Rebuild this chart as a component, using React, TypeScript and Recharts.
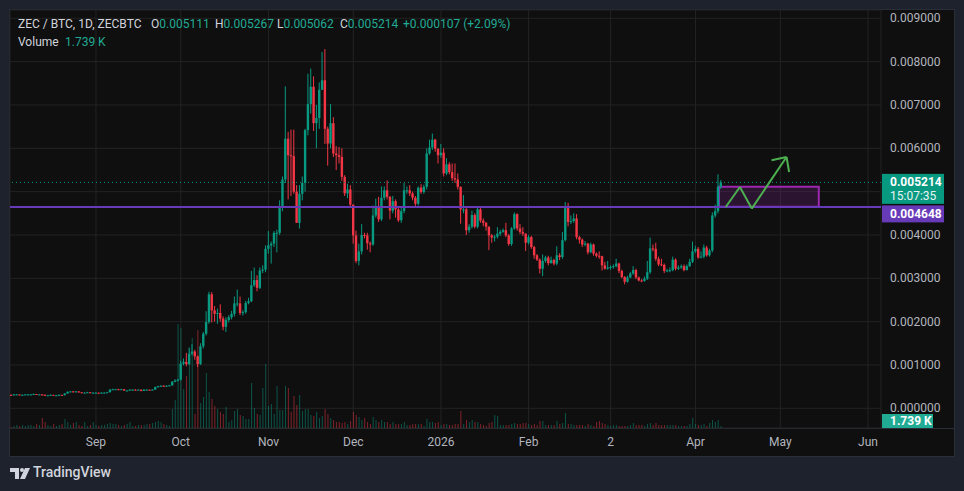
import { ComposedChart, Bar, XAxis, YAxis, CartesianGrid, ReferenceLine, ReferenceArea, Cell } from 'recharts';

// daily candles, day index counted from 1 Sep 2025 (first candle = 2 Aug 2025)
const firstDay = -30;
const firstOpen = 0.00031;

const closes = [
  0.00030, 0.00032, 0.00032, 0.00031, 0.00031, 0.00032, 0.00032, 0.00032, 0.00033, 0.00032,
  0.00032, 0.00031, 0.00030, 0.00030, 0.00031, 0.00030, 0.00030, 0.00031, 0.00030, 0.00034,
  0.00038, 0.00039, 0.00038, 0.00039, 0.00037, 0.00036, 0.00036, 0.00037, 0.00036, 0.00036,
  0.00036, 0.00035, 0.00036, 0.00036, 0.00037, 0.00043, 0.00044, 0.00044, 0.00043, 0.00044,
  0.00041, 0.00041, 0.00043, 0.00043, 0.00042, 0.00043, 0.00040, 0.00043, 0.00043, 0.00042,
  0.00043, 0.00049, 0.00051, 0.00052, 0.00051, 0.00052, 0.00053, 0.00061, 0.00064, 0.00066,
  0.00103, 0.00107, 0.00102, 0.00126, 0.00131, 0.00120, 0.00102, 0.00143, 0.00172, 0.00199,
  0.00263, 0.00226, 0.00218, 0.00220, 0.00207, 0.00188, 0.00204, 0.00210, 0.00218, 0.00242,
  0.00242, 0.00220, 0.00222, 0.00243, 0.00247, 0.00284, 0.00296, 0.00278, 0.00318, 0.00320,
  0.00368, 0.00376, 0.00380, 0.00405, 0.00405, 0.00465, 0.00528, 0.00622, 0.00584, 0.00582,
  0.00500, 0.00428, 0.00495, 0.00520, 0.00642, 0.00702, 0.00742, 0.00658, 0.00670, 0.00735,
  0.00757, 0.00645, 0.00611, 0.00658, 0.00588, 0.00584, 0.00580, 0.00534, 0.00496, 0.00505,
  0.00470, 0.00399, 0.00340, 0.00362, 0.00400, 0.00399, 0.00381, 0.00378, 0.00445, 0.00466,
  0.00436, 0.00486, 0.00503, 0.00488, 0.00456, 0.00478, 0.00459, 0.00434, 0.00455, 0.00503,
  0.00503, 0.00496, 0.00486, 0.00472, 0.00509, 0.00499, 0.00511, 0.00588, 0.00602, 0.00620,
  0.00599, 0.00584, 0.00590, 0.00542, 0.00563, 0.00545, 0.00531, 0.00528, 0.00511, 0.00459,
  0.00459, 0.00411, 0.00419, 0.00446, 0.00419, 0.00459, 0.00433, 0.00428, 0.00419, 0.00399,
  0.00394, 0.00396, 0.00403, 0.00407, 0.00411, 0.00399, 0.00379, 0.00415, 0.00448, 0.00415,
  0.00407, 0.00403, 0.00382, 0.00395, 0.00372, 0.00353, 0.00343, 0.00322, 0.00340, 0.00348,
  0.00335, 0.00342, 0.00334, 0.00353, 0.00349, 0.00388, 0.00462, 0.00430, 0.00432, 0.00438,
  0.00395, 0.00389, 0.00378, 0.00380, 0.00360, 0.00378, 0.00357, 0.00352, 0.00351, 0.00330,
  0.00322, 0.00325, 0.00326, 0.00328, 0.00334, 0.00317, 0.00303, 0.00292, 0.00302, 0.00311,
  0.00319, 0.00302, 0.00295, 0.00294, 0.00299, 0.00314, 0.00369, 0.00368, 0.00345, 0.00332,
  0.00331, 0.00317, 0.00318, 0.00319, 0.00343, 0.00322, 0.00325, 0.00328, 0.00319, 0.00328,
  0.00338, 0.00362, 0.00368, 0.00348, 0.00350, 0.00371, 0.00353, 0.00364, 0.00445, 0.00455,
  0.005111, 0.005214,
];

const highs = [
  0.00032, 0.00033, 0.00033, 0.00032, 0.00032, 0.00033, 0.00033, 0.00033, 0.00034, 0.00033,
  0.00033, 0.00033, 0.00032, 0.00031, 0.00032, 0.00031, 0.00031, 0.00032, 0.00031, 0.00035,
  0.00039, 0.00040, 0.00040, 0.00040, 0.00039, 0.00037, 0.00037, 0.00038, 0.00037, 0.00037,
  0.00037, 0.00036, 0.00037, 0.00037, 0.00038, 0.00044, 0.00045, 0.00045, 0.00045, 0.00045,
  0.00044, 0.00042, 0.00044, 0.00044, 0.00044, 0.00044, 0.00043, 0.00044, 0.00044, 0.00043,
  0.00044, 0.00050, 0.00052, 0.00053, 0.00053, 0.00053, 0.00054, 0.00063, 0.00067, 0.00068,
  0.00110, 0.00115, 0.00128, 0.00140, 0.00148, 0.00135, 0.00122, 0.00150, 0.00176, 0.00224,
  0.00269, 0.00268, 0.00236, 0.00230, 0.00240, 0.00212, 0.00210, 0.00215, 0.00225, 0.00258,
  0.00274, 0.00258, 0.00226, 0.00248, 0.00255, 0.00317, 0.00325, 0.00307, 0.00325, 0.00330,
  0.00376, 0.00409, 0.00385, 0.00409, 0.00412, 0.00480, 0.00535, 0.00743, 0.00638, 0.00643,
  0.00643, 0.00515, 0.00515, 0.00535, 0.00645, 0.00772, 0.00784, 0.00766, 0.00700, 0.00752,
  0.00822, 0.00829, 0.00650, 0.00702, 0.00672, 0.00605, 0.00603, 0.00600, 0.00538, 0.00518,
  0.00515, 0.00470, 0.00410, 0.00380, 0.00425, 0.00405, 0.00405, 0.00385, 0.00468, 0.00484,
  0.00488, 0.00512, 0.00512, 0.00526, 0.00490, 0.00490, 0.00482, 0.00462, 0.00465, 0.00520,
  0.00512, 0.00515, 0.00500, 0.00490, 0.00512, 0.00517, 0.00516, 0.00600, 0.00620, 0.00634,
  0.00622, 0.00600, 0.00610, 0.00600, 0.00577, 0.00568, 0.00565, 0.00565, 0.00542, 0.00512,
  0.00492, 0.00462, 0.00425, 0.00456, 0.00450, 0.00465, 0.00465, 0.00438, 0.00430, 0.00420,
  0.00402, 0.00400, 0.00418, 0.00412, 0.00415, 0.00428, 0.00402, 0.00418, 0.00452, 0.00450,
  0.00425, 0.00418, 0.00404, 0.00400, 0.00398, 0.00375, 0.00356, 0.00346, 0.00355, 0.00352,
  0.00352, 0.00350, 0.00345, 0.00374, 0.00358, 0.00407, 0.00476, 0.00474, 0.00445, 0.00450,
  0.00448, 0.00398, 0.00392, 0.00386, 0.00382, 0.00382, 0.00380, 0.00360, 0.00362, 0.00352,
  0.00338, 0.00340, 0.00330, 0.00332, 0.00345, 0.00336, 0.00320, 0.00305, 0.00306, 0.00315,
  0.00328, 0.00322, 0.00304, 0.00298, 0.00304, 0.00340, 0.00394, 0.00378, 0.00382, 0.00350,
  0.00345, 0.00334, 0.00322, 0.00325, 0.00350, 0.00346, 0.00330, 0.00332, 0.00332, 0.00332,
  0.00345, 0.00385, 0.00375, 0.00372, 0.00362, 0.00378, 0.00375, 0.00368, 0.00452, 0.00470,
  0.00540, 0.005267,
];

const lows = [
  0.00029, 0.00030, 0.00031, 0.00030, 0.00030, 0.00031, 0.00031, 0.00031, 0.00032, 0.00031,
  0.00031, 0.00030, 0.00029, 0.00029, 0.00030, 0.00029, 0.00029, 0.00030, 0.00029, 0.00030,
  0.00034, 0.00037, 0.00037, 0.00037, 0.00036, 0.00035, 0.00035, 0.00035, 0.00035, 0.00035,
  0.00035, 0.00034, 0.00035, 0.00035, 0.00036, 0.00037, 0.00042, 0.00043, 0.00042, 0.00043,
  0.00040, 0.00040, 0.00041, 0.00042, 0.00041, 0.00042, 0.00039, 0.00040, 0.00042, 0.00041,
  0.00042, 0.00043, 0.00048, 0.00050, 0.00050, 0.00050, 0.00051, 0.00052, 0.00060, 0.00062,
  0.00064, 0.00099, 0.00097, 0.00100, 0.00122, 0.00112, 0.00095, 0.00100, 0.00138, 0.00168,
  0.00195, 0.00198, 0.00200, 0.00195, 0.00200, 0.00180, 0.00176, 0.00198, 0.00205, 0.00212,
  0.00235, 0.00215, 0.00214, 0.00218, 0.00240, 0.00245, 0.00280, 0.00270, 0.00275, 0.00312,
  0.00314, 0.00357, 0.00334, 0.00372, 0.00360, 0.00400, 0.00455, 0.00520, 0.00482, 0.00490,
  0.00495, 0.00428, 0.00415, 0.00480, 0.00500, 0.00630, 0.00680, 0.00640, 0.00600, 0.00645,
  0.00735, 0.00610, 0.00560, 0.00600, 0.00580, 0.00550, 0.00565, 0.00525, 0.00490, 0.00485,
  0.00465, 0.00380, 0.00335, 0.00330, 0.00355, 0.00392, 0.00366, 0.00360, 0.00375, 0.00440,
  0.00430, 0.00432, 0.00480, 0.00482, 0.00436, 0.00450, 0.00440, 0.00430, 0.00428, 0.00450,
  0.00495, 0.00490, 0.00480, 0.00466, 0.00468, 0.00495, 0.00495, 0.00505, 0.00585, 0.00596,
  0.00592, 0.00565, 0.00578, 0.00535, 0.00538, 0.00540, 0.00525, 0.00520, 0.00505, 0.00426,
  0.00450, 0.00400, 0.00405, 0.00415, 0.00415, 0.00415, 0.00428, 0.00420, 0.00410, 0.00365,
  0.00382, 0.00385, 0.00392, 0.00398, 0.00405, 0.00395, 0.00375, 0.00375, 0.00412, 0.00410,
  0.00402, 0.00398, 0.00363, 0.00378, 0.00368, 0.00345, 0.00340, 0.00311, 0.00305, 0.00336,
  0.00330, 0.00334, 0.00330, 0.00330, 0.00342, 0.00345, 0.00385, 0.00420, 0.00425, 0.00428,
  0.00390, 0.00380, 0.00372, 0.00374, 0.00355, 0.00358, 0.00352, 0.00348, 0.00345, 0.00318,
  0.00320, 0.00320, 0.00320, 0.00322, 0.00325, 0.00312, 0.00300, 0.00286, 0.00290, 0.00300,
  0.00308, 0.00298, 0.00293, 0.00291, 0.00292, 0.00296, 0.00310, 0.00362, 0.00340, 0.00328,
  0.00328, 0.00312, 0.00314, 0.00314, 0.00316, 0.00318, 0.00319, 0.00322, 0.00316, 0.00318,
  0.00326, 0.00335, 0.00358, 0.00345, 0.00346, 0.00346, 0.00350, 0.00350, 0.00360, 0.00440,
  0.00450, 0.005062,
];

// volume in thousands of ZEC
const volumes = [
  1, 2, 3, 2, 3, 2, 3, 3, 2, 4,
  3, 10, 6, 3, 2, 4, 2, 3, 4, 9,
  6, 3, 5, 6, 3, 2, 6, 2, 3, 6,
  3, 2, 3, 3, 4, 5, 4, 4, 3, 2,
  3, 4, 6, 2, 2, 3, 3, 3, 4, 4,
  5, 6, 7, 6, 4, 3, 2, 19, 28, 104,
  100, 39, 52, 80, 90, 14, 98, 25, 31, 55,
  36, 29, 22, 19, 16, 14, 21, 6, 8, 17,
  19, 13, 12, 9, 9, 45, 20, 14, 13, 40,
  64, 22, 24, 14, 42, 18, 18, 42, 40, 16,
  32, 23, 33, 17, 19, 19, 13, 12, 16, 10,
  12, 19, 14, 10, 8, 6, 6, 5, 6, 4,
  7, 16, 13, 11, 8, 10, 6, 4, 11, 8,
  6, 8, 6, 6, 4, 6, 4, 4, 4, 6,
  3, 3, 4, 4, 4, 4, 2, 9, 6, 6,
  5, 6, 3, 4, 4, 3, 3, 4, 4, 17,
  4, 8, 6, 8, 6, 6, 4, 3, 2, 5,
  6, 13, 12, 3, 3, 3, 3, 4, 5, 4,
  4, 5, 5, 4, 3, 4, 3, 7, 7, 3,
  3, 3, 3, 7, 4, 5, 15, 4, 4, 3,
  3, 3, 3, 2, 4, 3, 2, 6, 7, 5,
  4, 3, 2, 3, 3, 2, 2, 2, 2, 3,
  5, 3, 3, 3, 2, 4, 5, 3, 5, 3,
  3, 3, 3, 3, 3, 3, 2, 2, 2, 2,
  4, 10, 4, 3, 3, 4, 2, 5, 8, 6,
  8, 1.739,
];

const monthTicks = [0, 30, 61, 91, 122, 153, 182, 212, 242, 273];
const monthLabels = ['Sep', 'Oct', 'Nov', 'Dec', '2026', 'Feb', '2', 'Apr', 'May', 'Jun'];
const priceTicks = [0, 0.001, 0.002, 0.003, 0.004, 0.005, 0.006, 0.007, 0.008, 0.009];

const lastPrice = 0.005214;
const levelPrice = 0.004648;
const lastVolume = '1.739 K';
const countdown = '15:07:35';

// drawings (day index, price)
const zone = { x1: 220.3, x2: 255.6, y1: 0.00465, y2: 0.00511 };
const arrowPoints = [
  { x: 222.7, y: 0.004646 },
  { x: 227.7, y: 0.005108 },
  { x: 231.9, y: 0.004609 },
  { x: 244.2, y: 0.0058 },
];
const arrowHead = [
  { x: 238.9, y: 0.005724 },
  { x: 245.1, y: 0.005454 },
];

const UP = '#089981';
const DOWN = '#f23645';
const UP_VOL = 'rgba(8, 153, 129, 0.5)';
const DOWN_VOL = 'rgba(242, 54, 69, 0.5)';
const GRID = '#232323';
const TEXT = '#b2b5be';
const FONT = 'Roboto, "Noto Sans", sans-serif';

const W = 964;
const H = 491;
const dayDomain = [-30.4, 277.6];
const priceDomain = [-0.000455, 0.009192];
const volDomain = [0, 418];

const candles = closes.map((close, i) => {
  const open = i === 0 ? firstOpen : closes[i - 1];
  return {
    day: firstDay + i,
    open,
    close,
    high: highs[i],
    low: lows[i],
    range: [lows[i], highs[i]],
    vol: volumes[i],
    up: close >= open,
  };
});

function Candle(props: any) {
  const { x, y, width, height, payload } = props;
  if (x == null || y == null) return null;
  const top = Math.min(y, y + height);
  const h = Math.abs(height);
  const { open, close, high, low } = payload;
  const color = close >= open ? UP : DOWN;
  const cx = x + width / 2;
  const span = high - low || 1e-9;
  const yOf = (v: number) => top + ((high - v) / span) * h;
  const bTop = yOf(Math.max(open, close));
  const bBot = yOf(Math.min(open, close));
  return (
    <g>
      <line x1={cx} x2={cx} y1={top} y2={top + h} stroke={color} strokeWidth={1} />
      <rect x={cx - 1.2} y={bTop} width={2.4} height={Math.max(bBot - bTop, 1)} fill={color} />
    </g>
  );
}

function PriceTick(props: any) {
  const { x, y, payload } = props;
  // the last price tag covers this label, as on the original
  if (Math.abs(payload.value - lastPrice) < 0.0004) return null;
  return (
    <text x={x + 9} y={y} dy={4} fill={TEXT} fontSize={12} fontFamily={FONT}>
      {payload.value.toFixed(6)}
    </text>
  );
}

function DateTick(props: any) {
  const { x, y, payload } = props;
  const label = monthLabels[monthTicks.indexOf(payload.value)];
  return (
    <text x={x} y={y} dy={18} textAnchor="middle" fill={TEXT} fontSize={12} fontFamily={FONT}>
      {label}
    </text>
  );
}

function LastTag(props: any) {
  const { viewBox } = props;
  if (!viewBox) return null;
  const x = viewBox.x + viewBox.width + 1;
  const y = viewBox.y;
  return (
    <g fontFamily={FONT} fontSize={12}>
      <rect x={x} y={y - 8.5} width={62} height={30} fill={UP} />
      <text x={x + 8} y={y + 4} fill="#ffffff" fontWeight={700}>{lastPrice.toFixed(6)}</text>
      <text x={x + 8} y={y + 18} fill="#e6f5f1">{countdown}</text>
    </g>
  );
}

function LevelTag(props: any) {
  const { viewBox } = props;
  if (!viewBox) return null;
  const x = viewBox.x + viewBox.width + 1;
  const y = viewBox.y;
  return (
    <g fontFamily={FONT} fontSize={12}>
      <rect x={x} y={y - 1.5} width={62} height={17} fill="#673ab7" />
      <text x={x + 8} y={y + 11} fill="#ffffff" fontWeight={700}>{levelPrice.toFixed(6)}</text>
    </g>
  );
}

function VolumeTag(props: any) {
  const { viewBox } = props;
  if (!viewBox) return null;
  const x = viewBox.x + viewBox.width + 1;
  const y = viewBox.y;
  return (
    <g fontFamily={FONT} fontSize={12}>
      <rect x={x} y={y - 14} width={51} height={14} fill="#22ab94" />
      <text x={x + 8} y={y - 3} fill="#ffffff" fontWeight={700}>{lastVolume}</text>
    </g>
  );
}

function Logo() {
  return (
    <svg width={22} height={14} style={{ position: 'absolute', left: 9, top: 467 }}>
      <path d="M1 1 H10 V12 H6 V5 H1 Z" fill="#d1d4dc" />
      <circle cx={13} cy={3} r={2} fill="#d1d4dc" />
      <path d="M16 1 H21 L16 12 H11 Z" fill="#d1d4dc" />
    </svg>
  );
}

export default function App() {
  const layer: any = { position: 'absolute', left: 0, top: 0 };
  return (
    <div style={{ position: 'absolute', left: 0, top: 0, width: W, height: H, background: '#1e222d', fontFamily: FONT, overflow: 'hidden' }}>
      <div style={{ position: 'absolute', left: 10, top: 10, width: 944, height: 446, background: '#0f0f0f', boxShadow: '0 0 0 1px #2a2e39' }} />
      <div style={{ position: 'absolute', left: 10, top: 428, width: 944, height: 1, background: '#2a2e39' }} />

      <div style={layer}>
        <ComposedChart width={W} height={H} data={candles} margin={{ top: 10, right: 83, bottom: 63, left: 10 }}>
          <XAxis dataKey="day" type="number" domain={dayDomain} allowDataOverflow ticks={monthTicks} interval={0} hide />
          <YAxis yAxisId="p" type="number" domain={priceDomain} allowDataOverflow ticks={priceTicks} interval={0} hide />
          <YAxis yAxisId="v" type="number" domain={volDomain} allowDataOverflow hide />
          <CartesianGrid yAxisId="p" stroke={GRID} strokeWidth={1} />
          <Bar yAxisId="v" dataKey="vol" barSize={1} isAnimationActive={false}>
            {candles.map((c) => (
              <Cell key={c.day} fill={c.up ? UP_VOL : DOWN_VOL} />
            ))}
          </Bar>
        </ComposedChart>
      </div>

      <div style={layer}>
        <ComposedChart width={W} height={H} data={candles} margin={{ top: 10, right: 0, bottom: 0, left: 10 }}>
          <XAxis
            dataKey="day"
            type="number"
            domain={dayDomain}
            allowDataOverflow
            ticks={monthTicks}
            interval={0}
            height={63}
            axisLine={false}
            tickLine={false}
            tickSize={0}
            tickMargin={0}
            tick={<DateTick />}
          />
          <YAxis
            orientation="right"
            type="number"
            domain={priceDomain}
            allowDataOverflow
            ticks={priceTicks}
            interval={0}
            width={83}
            axisLine={false}
            tickLine={false}
            tickSize={0}
            tickMargin={0}
            tick={<PriceTick />}
          />
          <ReferenceArea
            x1={zone.x1}
            x2={zone.x2}
            y1={zone.y1}
            y2={zone.y2}
            fill="#9c27b0"
            fillOpacity={0.2}
            stroke="#9c27b0"
            strokeWidth={2}
            strokeOpacity={1}
          />
          <ReferenceLine y={levelPrice} stroke="#673ab7" strokeWidth={2} label={<LevelTag />} />
          <ReferenceLine y={lastPrice} stroke={UP} strokeDasharray="1 3" label={<LastTag />} />
          <Bar dataKey="range" barSize={3} shape={<Candle />} isAnimationActive={false} />
          {arrowPoints.slice(1).map((p, i) => (
            <ReferenceLine key={'a' + i} segment={[arrowPoints[i], p]} stroke="#4caf50" strokeWidth={2} />
          ))}
          {arrowHead.map((p, i) => (
            <ReferenceLine key={'h' + i} segment={[arrowPoints[arrowPoints.length - 1], p]} stroke="#4caf50" strokeWidth={2} />
          ))}
          <ReferenceLine y={priceDomain[0]} stroke="none" label={<VolumeTag />} />
        </ComposedChart>
      </div>

      <div style={{ position: 'absolute', left: 18, top: 17, fontSize: 12, color: '#d1d4dc', whiteSpace: 'nowrap', lineHeight: '14px' }}>
        <span style={{ position: 'absolute', left: 0 }}>ZEC / BTC, 1D, ZECBTC</span>
        <span style={{ position: 'absolute', left: 133 }}>O<span style={{ color: '#22ab94' }}>{candles[candles.length - 1].open.toFixed(6)}</span></span>
        <span style={{ position: 'absolute', left: 197 }}>H<span style={{ color: '#22ab94' }}>{highs[highs.length - 1].toFixed(6)}</span></span>
        <span style={{ position: 'absolute', left: 259 }}>L<span style={{ color: '#22ab94' }}>{lows[lows.length - 1].toFixed(6)}</span></span>
        <span style={{ position: 'absolute', left: 322 }}>C<span style={{ color: '#22ab94' }}>{lastPrice.toFixed(6)}</span></span>
        <span style={{ position: 'absolute', left: 385, color: '#22ab94' }}>+0.000107 (+2.09%)</span>
        <span style={{ position: 'absolute', left: 0, top: 18 }}>Volume</span>
        <span style={{ position: 'absolute', left: 47, top: 18, color: '#22ab94' }}>{lastVolume}</span>
      </div>

      <Logo />
      <div style={{ position: 'absolute', left: 33, top: 464, fontSize: 14, fontWeight: 500, color: '#d1d4dc' }}>TradingView</div>
    </div>
  );
}
